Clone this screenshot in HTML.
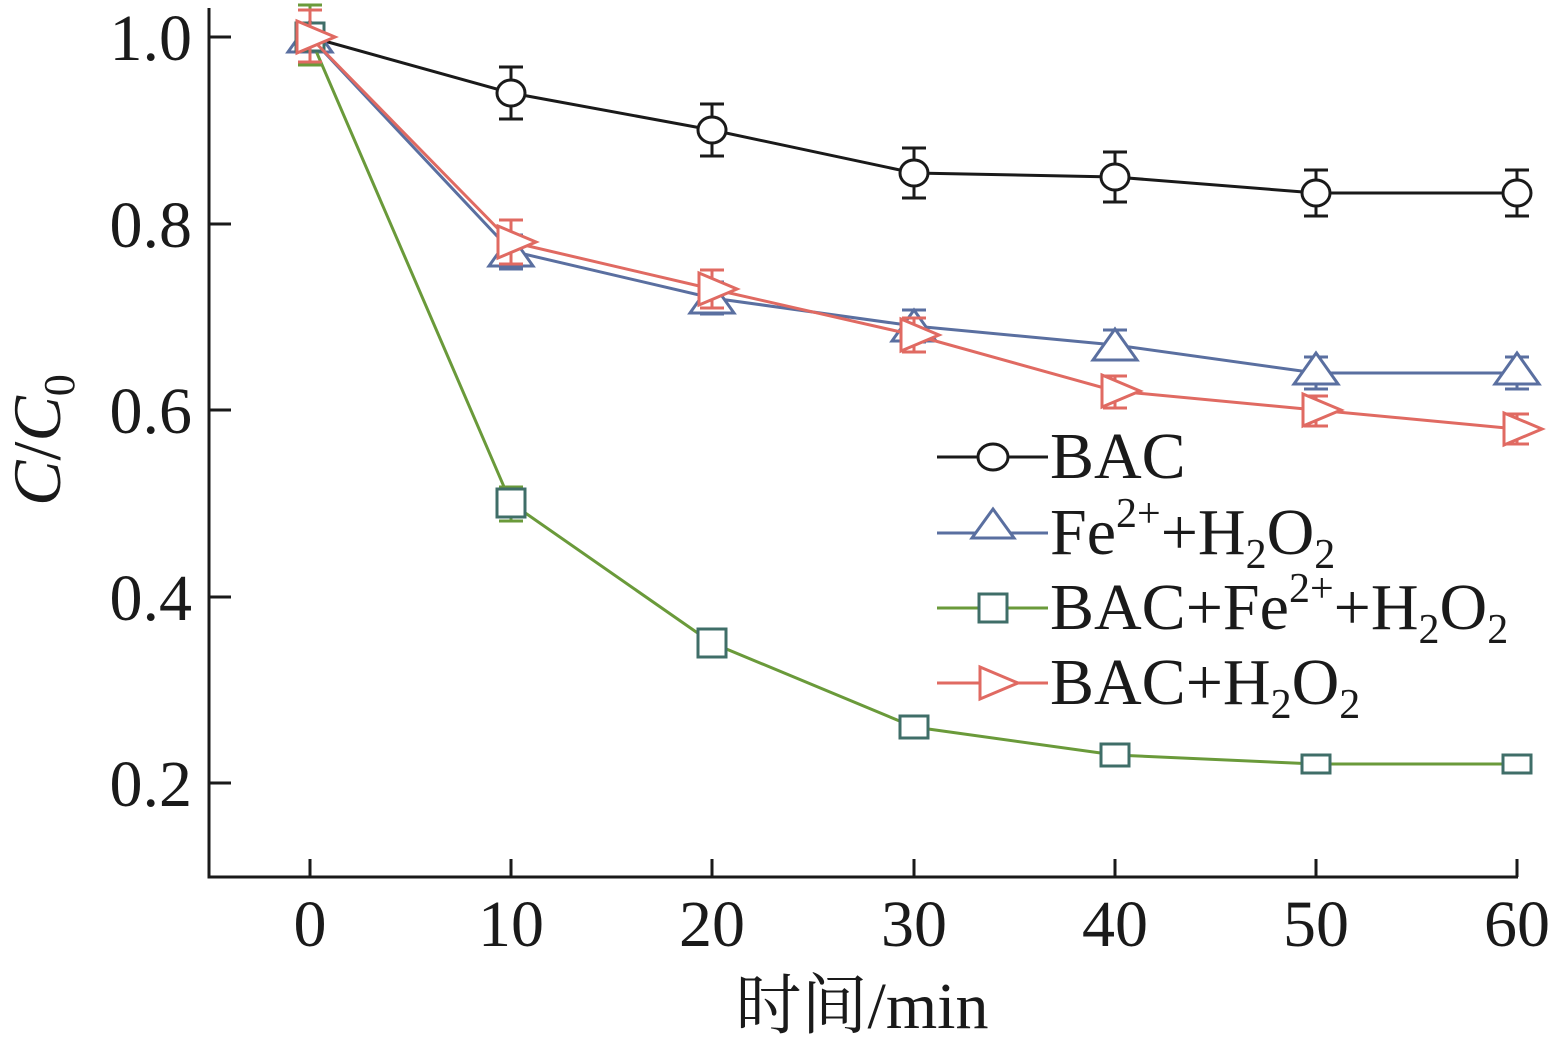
<!DOCTYPE html>
<html><head><meta charset="utf-8"><style>
html,body{margin:0;padding:0;background:#fff;}
svg{display:block;}
text{font-family:"Liberation Serif","Noto Serif CJK SC",serif;fill:#1a1a1a;}
</style></head><body>
<svg width="1555" height="1051" viewBox="0 0 1555 1051" xmlns="http://www.w3.org/2000/svg">
<g stroke="#1a1a1a" stroke-width="3" fill="none">
<path d="M209 8 V877 H1518"/>
<path d="M209 37 h22 M209 224 h22 M209 410 h22 M209 597 h22 M209 783 h22"/>
<path d="M310 877 v-18 M511 877 v-18 M712 877 v-18 M914 877 v-18 M1115 877 v-18 M1316 877 v-18 M1517 877 v-18"/>
</g>
<g font-size="66" text-anchor="end">
<text x="192" y="60">1.0</text><text x="192" y="247">0.8</text><text x="192" y="433">0.6</text><text x="192" y="620">0.4</text><text x="192" y="806">0.2</text>
</g>
<g font-size="66" text-anchor="middle">
<text x="310" y="946">0</text><text x="511" y="946">10</text><text x="712" y="946">20</text><text x="914" y="946">30</text><text x="1115" y="946">40</text><text x="1316" y="946">50</text><text x="1517" y="946">60</text>
<text x="862" y="1028">时间/min</text>
</g>
<text transform="translate(60,440) rotate(-90)" font-size="68" text-anchor="middle"><tspan font-style="italic">C</tspan>/<tspan font-style="italic">C</tspan><tspan font-size="44" dy="14">0</tspan></text>

<!-- BAC -->
<g stroke="#1a1a1a" stroke-width="3" fill="none">
<polyline points="310,37 511,93 712,130 914,173 1115,177 1316,193 1517,193"/>
<path d="M511 67v52M499 67h24M499 119h24 M712 104v52M700 104h24M700 156h24 M914 148v50M902 148h24M902 198h24 M1115 152v50M1103 152h24M1103 202h24 M1316 170v46M1304 170h24M1304 216h24 M1517 170v46M1505 170h24M1505 216h24"/>
<g fill="#fff"><ellipse cx="310" cy="37" rx="14" ry="13"/><ellipse cx="511" cy="93" rx="14" ry="13"/><ellipse cx="712" cy="130" rx="14" ry="13"/><ellipse cx="914" cy="173" rx="14" ry="13"/><ellipse cx="1115" cy="177" rx="14" ry="13"/><ellipse cx="1316" cy="193" rx="14" ry="13"/><ellipse cx="1517" cy="193" rx="14" ry="13"/></g>
</g>

<!-- Fe -->
<g stroke="#5a6fa0" stroke-width="3" fill="none">
<polyline points="310,37 511,251 712,298 914,326 1115,345 1316,373 1517,373"/>
<path d="M511 235v34M499 235h24M499 269h24 M712 282v32M700 282h24M700 314h24 M914 310v32M902 310h24M902 342h24 M1115 330v30M1103 330h24M1103 360h24 M1316 357v32M1304 357h24M1304 389h24 M1517 357v32M1505 357h24M1505 389h24"/>
<g fill="#fff">
<path d="M310 21 l22 31 h-44z"/><path d="M511 235 l22 31 h-44z"/><path d="M712 282 l22 31 h-44z"/><path d="M914 310 l22 31 h-44z"/><path d="M1115 329 l22 31 h-44z"/><path d="M1316 353 l22 31 h-44z"/><path d="M1517 353 l22 31 h-44z"/>
</g></g>

<!-- BAC+Fe+H2O2 -->
<g stroke="#6a9a3a" stroke-width="3" fill="none">
<polyline points="310,37 511,503 712,643 914,727 1115,755 1316,764 1517,764"/>
<path d="M310 5v60M298 5h24M298 65h24 M511 487v34M499 487h24M499 521h24 M914 718v18M902 718h24M902 736h24 M1115 746v18M1103 746h24M1103 764h24 M1316 756v16M1304 756h24M1304 772h24 M1517 756v16M1505 756h24M1505 772h24"/>
</g>
<g stroke="#3f6e68" stroke-width="3" fill="#fff">
<rect x="296" y="23" width="28" height="28"/><rect x="497" y="489" width="28" height="28"/><rect x="698" y="629" width="28" height="28"/><rect x="900" y="716" width="28" height="22"/><rect x="1101" y="744" width="28" height="22"/><rect x="1302" y="755" width="28" height="18"/><rect x="1503" y="755" width="28" height="18"/>
</g>

<!-- BAC+H2O2 -->
<g stroke="#e06a62" stroke-width="3" fill="none">
<polyline points="310,37 511,242 712,289 914,335 1115,391 1316,410 1517,429"/>
<path d="M310 10v52M298 10h24M298 62h24 M511 220v44M499 220h24M499 264h24 M712 270v38M700 270h24M700 308h24 M914 318v34M902 318h24M902 352h24 M1115 376v32M1103 376h24M1103 408h24 M1316 396v30M1304 396h24M1304 426h24 M1517 414v30M1505 414h24M1505 444h24"/>
<g fill="#fff">
<path d="M297 21 l38 16 l-38 16z"/><path d="M498 226 l38 16 l-38 16z"/><path d="M699 273 l38 16 l-38 16z"/><path d="M901 319 l38 16 l-38 16z"/><path d="M1102 375 l38 16 l-38 16z"/><path d="M1303 394 l38 16 l-38 16z"/><path d="M1504 413 l38 16 l-38 16z"/>
</g></g>

<!-- Legend -->
<g stroke-width="3" fill="#fff">
<path d="M937 457h111" stroke="#1a1a1a"/><ellipse cx="993" cy="457" rx="15" ry="13" stroke="#1a1a1a"/>
<path d="M937 533h111" stroke="#5a6fa0"/><path d="M993 509 l21 29 h-42z" stroke="#5a6fa0"/>
<path d="M937 608h111" stroke="#6a9a3a"/><rect x="979" y="594" width="28" height="28" stroke="#3f6e68"/>
<path d="M937 683h111" stroke="#e06a62"/><path d="M980 667 l38 16 l-38 16z" stroke="#e06a62"/>
</g>
<g font-size="66">
<text x="1050" y="478">BAC</text>
<text x="1050" y="554">Fe<tspan font-size="42" dy="-27">2+</tspan><tspan dy="27">+H</tspan><tspan font-size="42" dy="14">2</tspan><tspan dy="-14">O</tspan><tspan font-size="42" dy="14">2</tspan></text>
<text x="1050" y="629">BAC+Fe<tspan font-size="42" dy="-27">2+</tspan><tspan dy="27">+H</tspan><tspan font-size="42" dy="14">2</tspan><tspan dy="-14">O</tspan><tspan font-size="42" dy="14">2</tspan></text>
<text x="1050" y="704">BAC+H<tspan font-size="42" dy="14">2</tspan><tspan dy="-14">O</tspan><tspan font-size="42" dy="14">2</tspan></text>
</g>
</svg>
</body></html>
